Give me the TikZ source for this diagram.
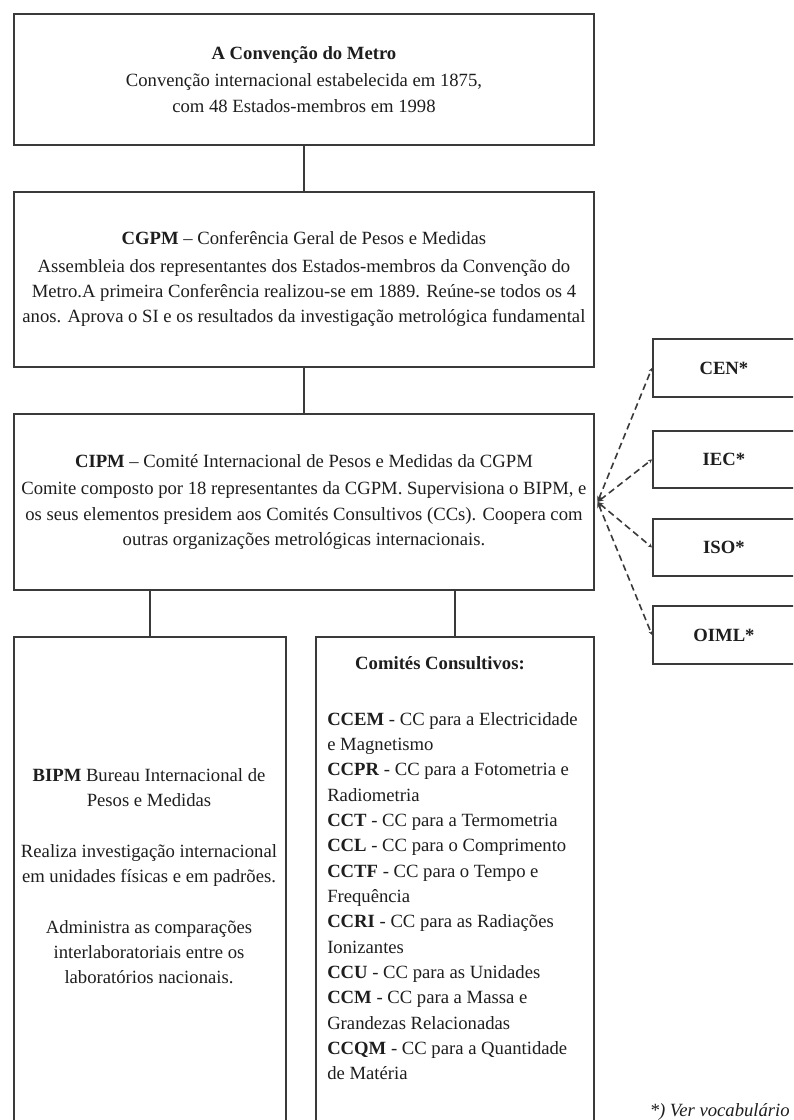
\documentclass[tikz,border=0pt]{standalone}
\usepackage{fontspec}
\setmainfont{Liberation Serif}
\usetikzlibrary{arrows.meta}
\definecolor{lineclr}{HTML}{3A3A3A}
\definecolor{txtclr}{HTML}{1E1E1E}
\newcommand\fsz{\fontsize{14pt}{19pt}\selectfont}
\begin{document}
\begin{tikzpicture}[x=0.75pt,y=-0.75pt,
  box/.style={draw=lineclr, line width=1.4pt, inner sep=0pt, anchor=north west,
    align=center, font=\fsz, text=txtclr},
  txt/.style={inner sep=0pt, font=\fsz, text=txtclr},
  conn/.style={draw=lineclr, line width=1.4pt},
  dconn/.style={draw=lineclr, line width=1.2pt, dash pattern=on 5pt off 3pt,
    {Stealth[length=4.5pt,width=4pt]}-{Stealth[length=3pt,width=3pt]}}]
\useasboundingbox (0,0) rectangle (793,1120);
\clip (0,0) rectangle (793,1120);
\fill[white] (0,0) rectangle (793,1120);

\node[box, minimum width=435pt, minimum height=98.25pt] (conv) at (13,13)
  {\textbf{A Convenção do Metro}\\[1.5pt]
   Convenção internacional estabelecida em 1875,\\
   com 48 Estados-membros em 1998};

\node[box, minimum width=435pt, minimum height=131.25pt] (cgpm) at (13,191)
  {\textbf{CGPM} – Conferência Geral de Pesos e Medidas\\[1.5pt]
   Assembleia dos representantes dos Estados-membros da Convenção do\\
   Metro.A primeira Conferência realizou-se em 1889. Reúne-se todos os 4\\
   anos. Aprova o SI e os resultados da investigação metrológica fundamental};

\node[box, minimum width=435pt, minimum height=132pt] (cipm) at (13,413)
  {\textbf{CIPM} – Comité Internacional de Pesos e Medidas da CGPM\\[1.5pt]
   Comite composto por 18 representantes da CGPM. Supervisiona o BIPM, e\\
   os seus elementos presidem aos Comités Consultivos (CCs). Coopera com\\
   outras organizações metrológicas internacionais.};

\node[box, minimum width=204pt, minimum height=375pt] (bipm) at (13,636) {};
\node[box, minimum width=208.5pt, minimum height=375pt] (cc) at (315,636) {};

\node[txt, align=center] (bipmtxt) at (149,876)
  {\textbf{BIPM} Bureau Internacional de\\
   Pesos e Medidas\\[19pt]
   Realiza investigação internacional\\
   em unidades físicas e em padrões.\\[19pt]
   Administra as comparações\\
   interlaboratoriais entre os\\
   laboratórios nacionais.};

\node[txt, font=\fsz\bfseries] (cctitle) at (440,663) {Comités Consultivos:};

\node[txt, align=left, anchor=west] (cclist) at (327,896)
  {\textbf{CCEM} - CC para a Electricidade\\
   e Magnetismo\\
   \textbf{CCPR} - CC para a Fotometria e\\
   Radiometria\\
   \textbf{CCT} - CC para a Termometria\\
   \textbf{CCL} - CC para o Comprimento\\
   \textbf{CCTF} - CC para o Tempo e\\
   Frequência\\
   \textbf{CCRI} - CC para as Radiações\\
   Ionizantes\\
   \textbf{CCU} - CC para as Unidades\\
   \textbf{CCM} - CC para a Massa e\\
   Grandezas Relacionadas\\
   \textbf{CCQM} - CC para a Quantidade\\
   de Matéria};

\node[box, minimum width=106.5pt, minimum height=43.5pt, font=\fsz\bfseries] (cen) at (652,338) {CEN*};
\node[box, minimum width=106.5pt, minimum height=42.75pt, font=\fsz\bfseries] (iec) at (652,430) {IEC*};
\node[box, minimum width=106.5pt, minimum height=42.75pt, font=\fsz\bfseries] (iso) at (652,518) {ISO*};
\node[box, minimum width=106.5pt, minimum height=43.5pt, font=\fsz\bfseries] (oiml) at (652,605) {OIML*};

\node[txt, anchor=base east, font=\fsz\itshape] (note) at (790,1116) {*) Ver vocabulário};

\draw[conn] (conv.south) -- (cgpm.north);
\draw[conn] (cgpm.south) -- (cipm.north);
\draw[conn] (bipm.north |- cipm.south) -- (bipm.north);
\draw[conn] (cc.north |- cipm.south) -- (cc.north);

\coordinate (hub) at ([xshift=2pt]cipm.east);
\draw[dconn] (hub) -- (cen.west);
\draw[dconn] (hub) -- (iec.west);
\draw[dconn] (hub) -- (iso.west);
\draw[dconn] (hub) -- (oiml.west);
\end{tikzpicture}
\end{document}
